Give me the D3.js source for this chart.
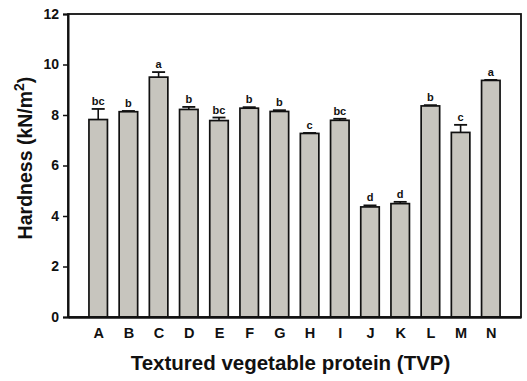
<!DOCTYPE html>
<html><head><meta charset="utf-8">
<script src="https://cdn.jsdelivr.net/npm/d3@7"></script>
<style>body{margin:0;background:#fff}svg{display:block}</style>
</head><body>
<script>
const categories = ["A","B","C","D","E","F","G","H","I","J","K","L","M","N"];
const hardness = [7.82,8.13,9.50,8.22,7.78,8.27,8.14,7.27,7.79,4.36,4.49,8.36,7.31,9.37];
const errors   = [0.42,0.03,0.20,0.10,0.12,0.04,0.05,0.02,0.06,0.06,0.07,0.03,0.30,0.02];
const letters  = ["bc","b","a","b","bc","b","b","c","bc","d","d","b","c","a"];
const yTicks = [0,2,4,6,8,10,12];

const W = 527, H = 381;
const m = {l:68, r:6, t:14, b:64};
const svg = d3.select("body").append("svg").attr("width",W).attr("height",H);
const x = d3.scaleLinear().domain([0, categories.length+1]).range([m.l, W-m.r]);
const y = d3.scaleLinear().domain([0,12]).range([H-m.b, m.t]);
const bw = 18.5;
const font = "Arial, 'Liberation Sans', sans-serif";

const g = svg.append("g");
g.selectAll("rect.bar").data(hardness).join("rect")
  .attr("x",(d,i)=>x(i+1)-bw/2).attr("width",bw)
  .attr("y",d=>y(d)).attr("height",d=>y(0)-y(d))
  .attr("fill","#c7c5be").attr("stroke","#111").attr("stroke-width",1.7);
hardness.forEach((v,i)=>{
  const cx = x(i+1), t = y(v+errors[i]);
  g.append("line").attr("x1",cx).attr("x2",cx).attr("y1",y(v)).attr("y2",t).attr("stroke","#111").attr("stroke-width",1.6);
  g.append("line").attr("x1",cx-6.5).attr("x2",cx+6.5).attr("y1",t).attr("y2",t).attr("stroke","#111").attr("stroke-width",1.8);
  g.append("text").attr("x",cx).attr("y",t-4).attr("text-anchor","middle")
    .attr("font-family",font).attr("font-weight","bold").attr("font-size",11).attr("fill","#111").text(letters[i]);
});

svg.append("rect").attr("x",m.l).attr("y",m.t).attr("width",W-m.r-m.l).attr("height",H-m.b-m.t)
  .attr("fill","none").attr("stroke","#111").attr("stroke-width",1.8);

const ya = svg.append("g").attr("transform",`translate(${m.l},0)`)
  .call(d3.axisLeft(y).tickValues(yTicks).tickSize(5).tickPadding(4).tickFormat(d3.format("d")));
ya.select(".domain").attr("stroke","#111").attr("stroke-width",2);
ya.selectAll(".tick line").attr("stroke","#111").attr("stroke-width",1.5);
ya.selectAll("text").attr("font-family",font).attr("font-weight","bold").attr("font-size",14).attr("fill","#111");

const xa = svg.append("g").attr("transform",`translate(0,${y(0)})`)
  .call(d3.axisBottom(x).tickValues(d3.range(1,categories.length+1)).tickSize(0).tickPadding(11)
    .tickFormat(d=>categories[d-1]));
xa.select(".domain").attr("stroke","#111").attr("stroke-width",2.4);
xa.selectAll("text").attr("font-family",font).attr("font-weight","bold").attr("font-size",14.5).attr("fill","#111");

svg.append("text").attr("x",(m.l+W-m.r)/2-4).attr("y",370).attr("text-anchor","middle")
  .attr("font-family",font).attr("font-weight","bold").attr("font-size",20.5).attr("fill","#111")
  .text("Textured vegetable protein (TVP)");
const yt = svg.append("text").attr("transform",`translate(32,158) rotate(-90)`).attr("text-anchor","middle")
  .attr("font-family",font).attr("font-weight","bold").attr("font-size",19.5).attr("fill","#111");
yt.append("tspan").text("Hardness (kN/m");
yt.append("tspan").attr("font-size",14).attr("dy",-8).text("2");
yt.append("tspan").attr("dy",8).text(")");
</script>
</body></html>
